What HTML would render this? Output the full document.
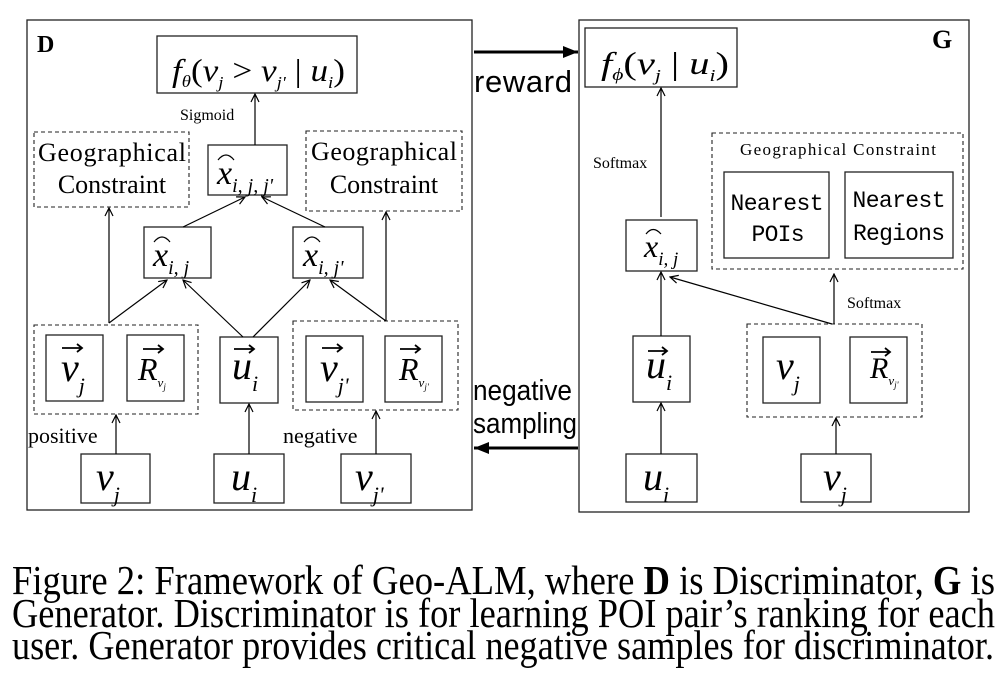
<!DOCTYPE html>
<html><head><meta charset="utf-8"><style>
html,body{margin:0;padding:0;background:#fff;}
svg{display:block;}
.m{font-family:"Liberation Serif",serif;font-style:italic;}
.s{font-family:"Liberation Serif",serif;}
.k{font-family:"Liberation Sans",sans-serif;}
.mono{font-family:"Liberation Mono",monospace;}
</style></head><body>
<svg width="1007" height="687" viewBox="0 0 1007 687" xmlns="http://www.w3.org/2000/svg">
<defs>
<marker id="a" markerWidth="10" markerHeight="10" refX="9" refY="5" orient="auto" markerUnits="userSpaceOnUse">
<path d="M1,1 L9,5 L1,9" fill="none" stroke="#000" stroke-width="1.2"/></marker>
<marker id="f" markerWidth="16" markerHeight="14" refX="15" refY="7" orient="auto" markerUnits="userSpaceOnUse">
<path d="M0,1 L15,7 L0,13 Z" fill="#000"/></marker>
</defs>
<g fill="none" stroke="#222" stroke-width="1.3">
<rect x="27" y="20" width="445" height="490"/>
<rect x="579" y="20" width="390" height="492"/>
<rect x="157" y="36" width="200" height="57"/>
<rect x="208" y="145" width="79" height="50"/>
<rect x="144" y="227" width="67" height="51"/>
<rect x="293" y="227" width="70" height="51"/>
<rect x="46" y="335" width="57" height="66"/>
<rect x="127" y="335" width="57" height="66"/>
<rect x="220" y="337" width="58" height="66"/>
<rect x="306" y="336" width="57" height="66"/>
<rect x="385" y="336" width="57" height="66"/>
<rect x="81" y="454" width="69" height="49"/>
<rect x="214" y="454" width="70" height="49"/>
<rect x="341" y="454" width="70" height="49"/>
<rect x="585" y="28" width="152" height="59"/>
<rect x="626" y="220" width="71" height="51"/>
<rect x="724" y="172" width="105" height="86"/>
<rect x="845" y="172" width="108" height="86"/>
<rect x="763" y="337" width="57" height="66"/>
<rect x="850" y="337" width="57" height="66"/>
<rect x="633" y="336" width="57" height="66"/>
<rect x="626" y="454" width="71" height="48"/>
<rect x="801" y="454" width="70" height="48"/>
</g>
<g fill="none" stroke="#222" stroke-width="1.1" stroke-dasharray="4,3">
<rect x="34" y="132" width="155" height="75"/>
<rect x="306" y="131" width="156" height="80"/>
<rect x="34" y="325" width="164" height="89"/>
<rect x="293" y="321" width="165" height="89"/>
<rect x="712" y="133" width="251" height="136"/>
<rect x="747" y="324" width="175" height="93"/>
</g>
<g stroke="#000" stroke-width="1.2" fill="none" marker-end="url(#a)">
<line x1="255" y1="145" x2="255" y2="94"/>
<line x1="183" y1="227" x2="245" y2="197"/>
<line x1="325" y1="227" x2="262" y2="197"/>
<line x1="109" y1="323" x2="109" y2="208"/>
<line x1="386" y1="321" x2="386" y2="212"/>
<line x1="109" y1="323" x2="167" y2="280"/>
<line x1="243" y1="337" x2="183" y2="280"/>
<line x1="253" y1="337" x2="310" y2="280"/>
<line x1="386" y1="321" x2="330" y2="280"/>
<line x1="116" y1="454" x2="116" y2="415"/>
<line x1="249" y1="454" x2="249" y2="404"/>
<line x1="376" y1="454" x2="376" y2="411"/>
<line x1="661" y1="217" x2="661" y2="88"/>
<line x1="661" y1="336" x2="661" y2="272"/>
<line x1="661" y1="454" x2="661" y2="403"/>
<line x1="832" y1="324" x2="670" y2="277"/>
<line x1="834" y1="324" x2="834" y2="274"/>
<line x1="836" y1="454" x2="836" y2="418"/>
</g>
<g stroke="#000" stroke-width="3" marker-end="url(#f)">
<line x1="474" y1="52" x2="578" y2="52"/>
<line x1="578" y1="448" x2="474" y2="448"/>
</g>
<text x="37" y="52" class="s" font-size="24" font-weight="bold">D</text>
<text x="932" y="48" class="s" font-size="26" font-weight="bold">G</text>
<text x="474" y="92" class="k" font-size="31" textLength="98">reward</text>
<text x="473" y="400" class="k" font-size="29" textLength="99" lengthAdjust="spacingAndGlyphs">negative</text>
<text x="473" y="433" class="k" font-size="29" textLength="104" lengthAdjust="spacingAndGlyphs">sampling</text>
<text x="180" y="120" class="s" font-size="16">Sigmoid</text>
<text x="112" y="161" class="s" font-size="26" text-anchor="middle" textLength="148">Geographical</text>
<text x="112" y="193" class="s" font-size="26" text-anchor="middle">Constraint</text>
<text x="384" y="160" class="s" font-size="26" text-anchor="middle" textLength="146">Geographical</text>
<text x="384" y="193" class="s" font-size="26" text-anchor="middle">Constraint</text>
<text x="28" y="443" class="s" font-size="22">positive</text>
<text x="283" y="443" class="s" font-size="22">negative</text>
<text x="593" y="168" class="s" font-size="16">Softmax</text>
<text x="847" y="308" class="s" font-size="16">Softmax</text>
<text x="838" y="155" class="s" font-size="17" text-anchor="middle" textLength="196">Geographical Constraint</text>
<text x="777" y="210" class="mono" font-size="23" text-anchor="middle" textLength="93">Nearest</text>
<text x="778" y="241" class="mono" font-size="23" text-anchor="middle" textLength="53">POIs</text>
<text x="899" y="207" class="mono" font-size="23" text-anchor="middle" textLength="93">Nearest</text>
<text x="899" y="240" class="mono" font-size="23" text-anchor="middle" textLength="92">Regions</text>
<text x="172" y="81" class="m" font-size="32" textLength="173" lengthAdjust="spacingAndGlyphs">f<tspan font-size="17" dy="6">θ</tspan><tspan dy="-6" font-style="normal">(</tspan>v<tspan font-size="17" dy="7">j</tspan><tspan dy="-7" font-style="normal"> &gt; </tspan>v<tspan font-size="17" dy="7">j'</tspan><tspan dy="-7" font-style="normal"> | </tspan>u<tspan font-size="17" dy="7">i</tspan><tspan dy="-7" font-style="normal">)</tspan></text>
<text x="601" y="74" class="m" font-size="32" textLength="128" lengthAdjust="spacingAndGlyphs">f<tspan font-size="17" dy="6">ϕ</tspan><tspan dy="-6" font-style="normal">(</tspan>v<tspan font-size="17" dy="7">j</tspan><tspan dy="-7" font-style="normal"> | </tspan>u<tspan font-size="17" dy="7">i</tspan><tspan dy="-7" font-style="normal">)</tspan></text>
<g class="m">
<text x="217" y="184" font-size="34">x<tspan font-size="20" dy="8">i, j, j'</tspan></text>
<text x="153" y="266" font-size="34">x<tspan font-size="20" dy="8">i, j</tspan></text>
<text x="303" y="266" font-size="34">x<tspan font-size="20" dy="8">i, j'</tspan></text>
<text x="644" y="257" font-size="32">x<tspan font-size="19" dy="8">i, j</tspan></text>
</g>
<g fill="none" stroke="#000" stroke-width="1.2">
<path d="M218,160 Q226,150 234,160"/>
<path d="M154,242 Q162,232 170,242"/>
<path d="M304,242 Q312,232 320,242"/>
<path d="M646,234 Q653,225 661,234"/>
</g>
<g class="m">
<text x="61" y="381" font-size="40">v<tspan font-size="22" dy="12">j</tspan></text>
<text x="138" y="380" font-size="32">R<tspan font-size="13" dy="7">v</tspan><tspan font-size="9" dy="3">j</tspan></text>
<text x="232" y="379" font-size="40">u<tspan font-size="22" dy="12">i</tspan></text>
<text x="320" y="381" font-size="40">v<tspan font-size="22" dy="12">j'</tspan></text>
<text x="399" y="380" font-size="32">R<tspan font-size="13" dy="7">v</tspan><tspan font-size="9" dy="3">j'</tspan></text>
<text x="646" y="378" font-size="40">u<tspan font-size="22" dy="12">i</tspan></text>
<text x="776" y="379" font-size="40">v<tspan font-size="22" dy="12">j</tspan></text>
<text x="870" y="378" font-size="30">R<tspan font-size="13" dy="7">v</tspan><tspan font-size="9" dy="3">j'</tspan></text>
<text x="96" y="490" font-size="40">v<tspan font-size="22" dy="12">j</tspan></text>
<text x="231" y="490" font-size="40">u<tspan font-size="22" dy="12">i</tspan></text>
<text x="355" y="490" font-size="40">v<tspan font-size="22" dy="12">j'</tspan></text>
<text x="643" y="490" font-size="40">u<tspan font-size="22" dy="12">i</tspan></text>
<text x="823" y="490" font-size="40">v<tspan font-size="22" dy="12">j</tspan></text>
</g>
<g stroke="#000" stroke-width="1.8" fill="none">
<path d="M62,348 H82 M77,344 L82,348 L77,352"/>
<path d="M143,349 H163 M158,345 L163,349 L158,353"/>
<path d="M234,349 H254 M249,345 L254,349 L249,353"/>
<path d="M322,348 H342 M337,344 L342,348 L337,352"/>
<path d="M400,349 H420 M415,345 L420,349 L415,353"/>
<path d="M648,351 H667 M662,347 L667,351 L662,355"/>
<path d="M871,352 H890 M885,348 L890,352 L885,356"/>
</g>
<g class="s" font-size="41">
<text x="12" y="594" textLength="983" lengthAdjust="spacingAndGlyphs">Figure 2: Framework of Geo-ALM, where <tspan font-weight="bold">D</tspan> is Discriminator, <tspan font-weight="bold">G</tspan> is</text>
<text x="12" y="627" textLength="983" lengthAdjust="spacingAndGlyphs">Generator. Discriminator is for learning POI pair’s ranking for each</text>
<text x="12" y="659" textLength="982" lengthAdjust="spacingAndGlyphs">user. Generator provides critical negative samples for discriminator.</text>
</g>
</svg>
</body></html>
